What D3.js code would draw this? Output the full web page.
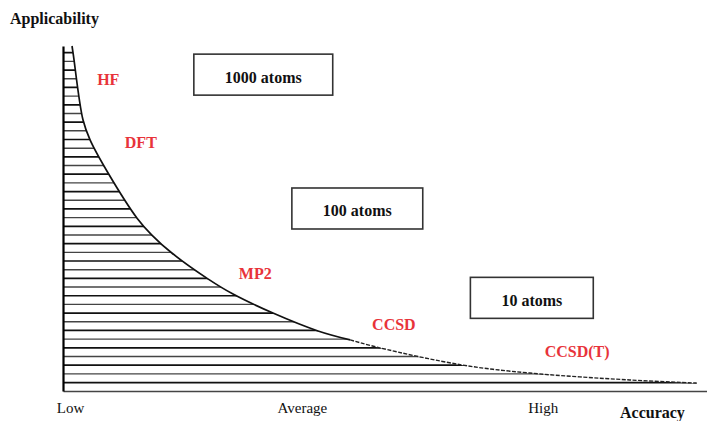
<!DOCTYPE html>
<html>
<head>
<meta charset="utf-8">
<script src="https://cdn.jsdelivr.net/npm/d3@7"></script>
<style>
  html, body { margin: 0; padding: 0; background: #fff; }
  text { font-family: "Liberation Serif", "Times New Roman", serif; }
</style>
</head>
<body>
<svg id="chart"></svg>
<script>
// SET VARIABLES
var _canvasWidth = 707;
var _canvasHeight = 421;
const _margin = {left: 63, right: 0, top: 46, bottom: 30};
const _red = "#e8333a";

// DATA (accuracy 0-100 vs applicability 0-100)
const accuracy      = [1.4, 1.6, 3.1, 4.2, 7.0, 11.5, 13.8, 16.9, 22.5, 26.4, 32.6, 39.6, 44.6, 49.2, 62.1, 72.5, 88.0, 98.4];
const applicability = [100, 97.5, 78.6, 72.8, 63.2, 50.1, 45.2, 40.0, 32.5, 28.1, 22.6, 17.4, 14.8, 12.5, 7.5, 5.2, 3.2, 2.3];
const solidUntil = 12; // index where the curve turns into a thin dashed line

const accTicks  = [1.1, 37.1, 74.5];
const accLabels = ["Low", "Average", "High"];

const methodNames = ["HF", "DFT", "MP2", "CCSD", "CCSD(T)"];
const methodAcc   = [5.3, 9.6, 27.3, 48.0, 74.8];
const methodApp   = [88.7, 70.4, 32.5, 17.7, 9.9];

const atomLabels = ["1000 atoms", "100 atoms", "10 atoms"];
const atomAcc    = [31.1, 45.7, 72.8];
const atomApp    = [91.7, 52.9, 27.0];

const curveData = accuracy.map((d, i) => ({acc: d, app: applicability[i]}));

// SCALES
const x = d3.scaleLinear().domain([0, 100]).range([_margin.left, _canvasWidth - _margin.right]);
const y = d3.scaleLinear().domain([0, 100]).range([_canvasHeight - _margin.bottom, _margin.top]);

let svg = d3.select("#chart")
              .attr("width", _canvasWidth)
              .attr("height", _canvasHeight);

// HATCHED AREA UNDER THE CURVE
let area = d3.area()
              .curve(d3.curveCatmullRom.alpha(0.5))
              .x(d => x(d.acc))
              .y0(y(0))
              .y1(d => y(d.app));
let clip = svg.append("clipPath").attr("id", "underCurve");
    clip.append("path").attr("d", area(curveData));
    clip.append("rect")
          .attr("x", x(0))
          .attr("y", y(100))
          .attr("width", x(accuracy[0]) - x(0) + 1)
          .attr("height", y(0) - y(100));

let hatch = svg.append("g").attr("clip-path", "url(#underCurve)");
    hatch.selectAll("line")
          .data(d3.range(52.7, 384, 8.68))
            .enter()
          .append("line")
            .attr("x1", x(0))
            .attr("x2", x(100))
            .attr("y1", d => d)
            .attr("y2", d => d)
            .attr("stroke", (d, i) => i % 2 ? "#444" : "#111")
            .attr("stroke-width", (d, i) => i % 2 ? 1.4 : 1.7);

// CURVE
let line = d3.line()
              .curve(d3.curveCatmullRom.alpha(0.5))
              .x(d => x(d.acc))
              .y(d => y(d.app));
svg.append("path")
      .attr("d", line(curveData.slice(0, solidUntil + 1)))
      .attr("fill", "none")
      .attr("stroke", "#111")
      .attr("stroke-width", 1.7);
svg.append("path")
      .attr("d", line(curveData.slice(solidUntil)))
      .attr("fill", "none")
      .attr("stroke", "#222")
      .attr("stroke-width", 1.4)
      .attr("stroke-dasharray", "4,1.5");

// AXES
let xAxis = svg.append("g")
                .attr("transform", `translate(0, ${y(0)})`)
                .call(d3.axisBottom(x)
                        .tickValues(accTicks)
                        .tickFormat((d, i) => accLabels[i])
                        .tickSize(0)
                        .tickSizeOuter(0)
                        .tickPadding(11));
    xAxis.select(".domain").attr("stroke", "#444").attr("stroke-width", 1.4);
    xAxis.selectAll("text")
          .attr("font-family", "Liberation Serif, Times New Roman, serif")
          .attr("font-size", 15)
          .attr("fill", "#111");

let yAxis = svg.append("g")
                .attr("transform", `translate(${x(0)}, 0)`)
                .call(d3.axisLeft(y).tickValues([]).tickSizeOuter(0));
    yAxis.select(".domain").attr("stroke", "#000").attr("stroke-width", 2.2);

// AXIS TITLES
svg.append("text")
      .attr("x", 10)
      .attr("y", 24)
      .attr("font-size", 16)
      .attr("font-weight", "bold")
      .attr("fill", "#111")
      .text("Applicability");
svg.append("text")
      .attr("x", 620)
      .attr("y", 418)
      .attr("font-size", 16)
      .attr("font-weight", "bold")
      .attr("fill", "#111")
      .text("Accuracy");

// METHOD LABELS
svg.append("g")
    .selectAll("text")
    .data(methodNames)
      .enter()
    .append("text")
      .attr("x", (d, i) => x(methodAcc[i]))
      .attr("y", (d, i) => y(methodApp[i]))
      .attr("font-size", 16)
      .attr("font-weight", "bold")
      .attr("fill", _red)
      .text(d => d);

// ATOM COUNT BOXES
let boxes = svg.append("g")
                .selectAll("g")
                .data(atomLabels)
                  .enter()
                .append("g")
                  .attr("transform", (d, i) => `translate(${x(atomAcc[i])}, ${y(atomApp[i])})`);
    boxes.append("text")
          .attr("text-anchor", "middle")
          .attr("y", 8)
          .attr("font-size", 16)
          .attr("font-weight", "bold")
          .attr("fill", "#111")
          .text(d => d);
    boxes.insert("rect", "text")
          .each(function() {
            let w = this.parentNode.querySelector("text").getComputedTextLength() + 62;
            d3.select(this)
                .attr("x", -w / 2)
                .attr("y", -20.5)
                .attr("width", w)
                .attr("height", 41);
          })
          .attr("fill", "#fff")
          .attr("stroke", "#333")
          .attr("stroke-width", 1.6);
</script>
</body>
</html>
